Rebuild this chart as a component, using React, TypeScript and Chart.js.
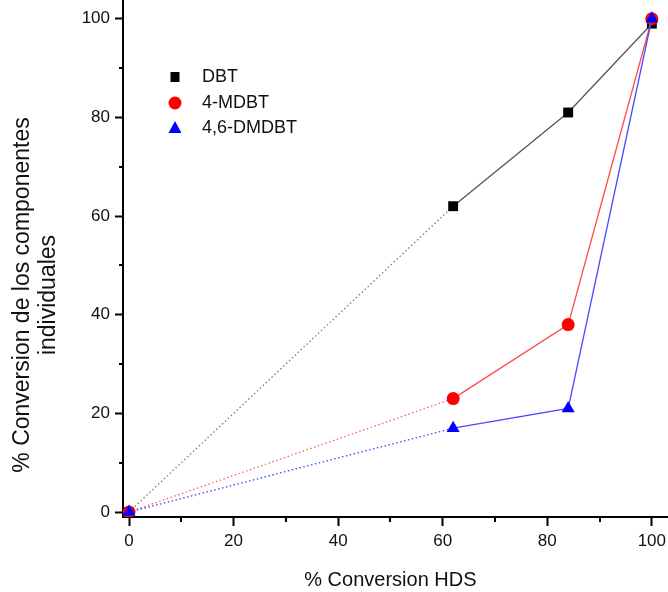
import { useEffect, useRef } from "react";
import { Chart, registerables } from "chart.js";

Chart.register(...registerables);

// Conversion of the whole feed (% HDS) on x, conversion of each sulfur compound on y
const hdsConversion = [0, 62, 84, 100];
const dbtConversion = [0, 62, 81, 99];
const mdbtConversion = [0, 23, 38, 100];
const dmdbtConversion = [0, 17, 21, 100];

const seriesNames = ["DBT", "4-MDBT", "4,6-DMDBT"];
const majorTicks = [0, 20, 40, 60, 80, 100];
const minorTicks = [10, 30, 50, 70, 90];

const xTitle = "% Conversion HDS";
const yTitle = ["% Conversion de los componentes", "individuales"];

const FONT = "'Liberation Sans', Arial, sans-serif";

const toPoints = (ys: number[]) => hdsConversion.map((x, i) => ({ x, y: ys[i] }));

// first segment (from the origin) is a faint dotted line, the rest is solid
const dottedFirst = (solid: string, faint: string) => ({
  borderColor: (ctx: any) => (ctx.p0DataIndex === 0 ? faint : solid),
  borderDash: (ctx: any) => (ctx.p0DataIndex === 0 ? [1.5, 2.5] : []),
});

// keep the plot box exactly where the axes are placed
const fixBox = (size: "width" | "height", value: number) => (s: any) => {
  s[size] = value;
  s.paddingTop = 0;
  s.paddingBottom = 0;
  s.paddingLeft = 0;
  s.paddingRight = 0;
};

const decorations = {
  id: "decorations",
  afterDraw(chart: any) {
    const { ctx, chartArea } = chart;
    const xs = chart.scales.x;
    const ys = chart.scales.y;
    ctx.save();

    // minor tick marks
    ctx.strokeStyle = "#000";
    ctx.lineWidth = 2;
    ctx.beginPath();
    for (const v of minorTicks) {
      const px = Math.round(xs.getPixelForValue(v));
      ctx.moveTo(px, chartArea.bottom);
      ctx.lineTo(px, chartArea.bottom + 5);
      const py = Math.round(ys.getPixelForValue(v));
      ctx.moveTo(chartArea.left, py);
      ctx.lineTo(chartArea.left - 4, py);
    }
    ctx.stroke();

    // axis titles
    ctx.fillStyle = "#111";
    ctx.textAlign = "center";
    ctx.textBaseline = "alphabetic";
    ctx.font = `20px ${FONT}`;
    ctx.fillText(xTitle, (xs.getPixelForValue(0) + xs.getPixelForValue(100)) / 2, 586);

    ctx.save();
    ctx.translate(0, 295);
    ctx.rotate(-Math.PI / 2);
    ctx.font = `23px ${FONT}`;
    ctx.fillText(yTitle[0], 0, 29);
    ctx.fillText(yTitle[1], 0, 55);
    ctx.restore();

    // legend inside the plot
    const rows = [77, 103, 128];
    const markX = 175;
    ctx.font = `18px ${FONT}`;
    ctx.textAlign = "left";
    ctx.textBaseline = "middle";
    chart.data.datasets.forEach((ds: any, i: number) => {
      const y = rows[i];
      ctx.fillStyle = ds.pointBackgroundColor;
      ctx.beginPath();
      if (ds.pointStyle === "rect") {
        ctx.rect(markX - 4.5, y - 5, 9, 10);
      } else if (ds.pointStyle === "circle") {
        ctx.arc(markX, y, 6.5, 0, Math.PI * 2);
      } else {
        ctx.moveTo(markX, y - 7);
        ctx.lineTo(markX + 6.5, y + 5);
        ctx.lineTo(markX - 6.5, y + 5);
        ctx.closePath();
      }
      ctx.fill();
      ctx.fillStyle = "#111";
      ctx.fillText(seriesNames[i], 202, y);
    });
    ctx.restore();
  },
};

export default function App() {
  const canvasRef = useRef<HTMLCanvasElement | null>(null);

  useEffect(() => {
    const canvas = canvasRef.current;
    if (!canvas) return;
    const chart = new Chart(canvas, {
      type: "line",
      data: {
        datasets: [
          {
            label: seriesNames[0],
            data: toPoints(dbtConversion),
            borderWidth: 1.3,
            pointStyle: "rect",
            pointRadius: 7,
            pointBackgroundColor: "#000",
            pointBorderWidth: 0,
            segment: dottedFirst("#555", "rgba(90,90,90,0.8)"),
            order: 2,
          },
          {
            label: seriesNames[1],
            data: toPoints(mdbtConversion),
            borderWidth: 1.3,
            pointStyle: "circle",
            pointRadius: 6.5,
            pointBackgroundColor: "#ff0000",
            pointBorderWidth: 0,
            segment: dottedFirst("#ff4a4a", "rgba(255,40,40,0.75)"),
            order: 1,
          },
          {
            label: seriesNames[2],
            data: toPoints(dmdbtConversion),
            borderWidth: 1.3,
            pointStyle: "triangle",
            pointRadius: 7.5,
            pointBackgroundColor: "#0000ff",
            pointBorderWidth: 0,
            segment: dottedFirst("#4a4aff", "rgba(30,30,255,0.85)"),
            order: 0,
          },
        ] as any,
      },
      options: {
        animation: false,
        responsive: false,
        devicePixelRatio: 1,
        layout: { autoPadding: false, padding: { top: 0, right: 1, left: 0, bottom: 0 } },
        plugins: { legend: { display: false }, tooltip: { enabled: false } },
        elements: { line: { tension: 0 } },
        scales: {
          x: {
            type: "linear",
            min: -1.15,
            max: 102.9,
            afterFit: fixBox("height", 75),
            afterBuildTicks: (s: any) => {
              s.ticks = majorTicks.map((v) => ({ value: v }));
            },
            border: { display: true, color: "#000", width: 2 },
            grid: {
              drawOnChartArea: false,
              drawTicks: true,
              tickLength: 9,
              tickWidth: 2,
              tickColor: "#000",
            },
            ticks: {
              padding: 5,
              color: "#111",
              font: { family: FONT, size: 17 },
              maxRotation: 0,
            },
          },
          y: {
            type: "linear",
            min: -1.0,
            max: 103.8,
            afterFit: fixBox("width", 123),
            afterBuildTicks: (s: any) => {
              s.ticks = majorTicks.map((v) => ({ value: v }));
            },
            border: { display: true, color: "#000", width: 2 },
            grid: {
              drawOnChartArea: false,
              drawTicks: true,
              tickLength: 8,
              tickWidth: 2,
              tickColor: "#000",
            },
            ticks: {
              padding: 5,
              color: "#111",
              font: { family: FONT, size: 17 },
            },
          },
        },
      },
      plugins: [decorations],
    });
    return () => chart.destroy();
  }, []);

  return (
    <div style={{ position: "absolute", left: 0, top: 0, width: 668, height: 592, background: "#fff" }}>
      <canvas ref={canvasRef} width={668} height={592} style={{ display: "block" }} />
    </div>
  );
}
